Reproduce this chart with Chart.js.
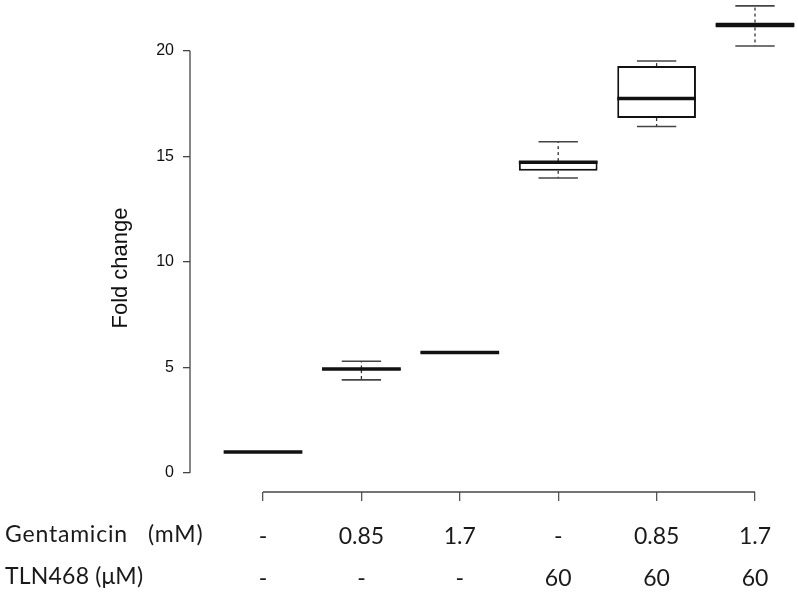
<!DOCTYPE html>
<html>
<head>
<meta charset="utf-8">
<script src="https://cdn.jsdelivr.net/npm/chart.js@4.4.1/dist/chart.umd.min.js"></script>
<style>
  html, body { margin: 0; padding: 0; background: #fff; }
  #wrap { width: 798px; height: 595px; position: relative; }
</style>
</head>
<body>
<div id="wrap"><canvas id="c" width="798" height="595"></canvas></div>
<script>
// ---- data ----
const positions   = [1, 2, 3, 4, 5, 6];
const gentamicin  = ['-', '0.85', '1.7', '-', '0.85', '1.7'];
const tln468      = ['-', '-', '-', '60', '60', '60'];
const whiskerLow  = [1.00, 4.41, 5.67, 13.97, 16.41, 20.22];
const q1          = [1.00, 4.88, 5.67, 14.31, 16.81, 21.10];
const median      = [1.00, 4.92, 5.71, 14.72, 17.74, 21.22];
const q3          = [1.00, 4.95, 5.75, 14.77, 19.27, 21.33];
const whiskerHigh = [1.00, 5.29, 5.75, 15.69, 19.51, 22.12];
const yTicks      = [0, 5, 10, 15, 20];
const rowTitles   = ['Gentamicin   (mM)', 'TLN468 (\u03bcM)'];
const yTitle      = 'Fold change';

const BOTTOM_FONT = "Lato, 'Open Sans', 'Liberation Sans', sans-serif";
const AXIS_FONT = "'Liberation Sans', Arial, sans-serif";

const boxPlugin = {
  id: 'boxWhiskers',
  afterDatasetsDraw(chart) {
    const { ctx, scales: { x, y } } = chart;
    const meta = chart.getDatasetMeta(0);
    ctx.save();
    positions.forEach((p, i) => {
      const bar = meta.data[i];
      const cx = x.getPixelForValue(p);
      const half = bar.width / 2;
      const capHalf = half / 2;
      const yl = y.getPixelForValue(whiskerLow[i]);
      const yh = y.getPixelForValue(whiskerHigh[i]);
      const y1 = y.getPixelForValue(q1[i]);
      const y3 = y.getPixelForValue(q3[i]);
      const ym = y.getPixelForValue(median[i]);
      ctx.strokeStyle = '#333';
      ctx.lineWidth = 1.3;
      ctx.setLineDash([3, 3]);
      if (whiskerHigh[i] > q3[i]) { ctx.beginPath(); ctx.moveTo(cx, y3); ctx.lineTo(cx, yh); ctx.stroke(); }
      if (whiskerLow[i] < q1[i]) { ctx.beginPath(); ctx.moveTo(cx, y1); ctx.lineTo(cx, yl); ctx.stroke(); }
      ctx.setLineDash([]);
      ctx.strokeStyle = '#444';
      ctx.lineWidth = 1.6;
      if (whiskerHigh[i] > q3[i]) { ctx.beginPath(); ctx.moveTo(cx - capHalf, yh); ctx.lineTo(cx + capHalf, yh); ctx.stroke(); }
      if (whiskerLow[i] < q1[i]) { ctx.beginPath(); ctx.moveTo(cx - capHalf, yl); ctx.lineTo(cx + capHalf, yl); ctx.stroke(); }
      ctx.strokeStyle = '#111';
      ctx.lineWidth = 3.5;
      ctx.beginPath(); ctx.moveTo(cx - half, ym); ctx.lineTo(cx + half, ym); ctx.stroke();
    });
    ctx.restore();
  },
  afterDraw(chart) {
    const { ctx, chartArea, scales: { x, y } } = chart;
    ctx.save();
    ctx.strokeStyle = '#444';
    ctx.lineWidth = 1.3;
    // R-style y axis line spanning 0..20
    ctx.beginPath();
    ctx.moveTo(chartArea.left, y.getPixelForValue(yTicks[0]));
    ctx.lineTo(chartArea.left, y.getPixelForValue(yTicks[yTicks.length - 1]));
    ctx.stroke();
    // R-style x axis line spanning first..last group
    ctx.beginPath();
    ctx.moveTo(x.getPixelForValue(positions[0]), chartArea.bottom);
    ctx.lineTo(x.getPixelForValue(positions[positions.length - 1]), chartArea.bottom);
    ctx.stroke();
    // y axis title
    ctx.save();
    ctx.translate(121, 268);
    ctx.rotate(-Math.PI / 2);
    ctx.fillStyle = '#111';
    ctx.font = '22px ' + AXIS_FONT;
    ctx.textAlign = 'center';
    ctx.textBaseline = 'middle';
    ctx.fillText(yTitle, 0, 0);
    ctx.restore();
    // row titles of the bottom table
    ctx.fillStyle = '#1a1a1a';
    ctx.font = '23px ' + BOTTOM_FONT;
    ctx.textAlign = 'left';
    ctx.textBaseline = 'middle';
    try { ctx.letterSpacing = '0.8px'; } catch (e) {}
    ctx.fillText(rowTitles[0], 5, 535);
    try { ctx.letterSpacing = '0.2px'; } catch (e) {}
    ctx.fillText(rowTitles[1], 5, 577);
    ctx.restore();
  }
};

new Chart(document.getElementById('c'), {
  type: 'bar',
  data: {
    datasets: [{
      data: positions.map((p, i) => ({ x: p, y: [q1[i], q3[i]] })),
      backgroundColor: '#ffffff',
      borderColor: '#111',
      borderWidth: 2,
      borderSkipped: false,
      categoryPercentage: 1.0,
      barPercentage: 0.8
    }]
  },
  options: {
    responsive: false,
    animation: false,
    layout: { padding: { left: 0, right: 0, top: 0, bottom: 0 } },
    plugins: { legend: { display: false }, tooltip: { enabled: false } },
    scales: {
      x: {
        type: 'linear',
        offset: false,
        min: 0.258,
        max: 6.437,
        afterBuildTicks(scale) { scale.ticks = positions.map(v => ({ value: v })); },
        afterFit(scale) { scale.height = 103; scale.paddingLeft = 0; scale.paddingRight = 0; },
        border: { display: false },
        grid: { offset: false, drawOnChartArea: false, drawTicks: true, tickLength: 9, color: '#555', lineWidth: 1.3 },
        ticks: {
          autoSkip: false,
          maxRotation: 0,
          padding: 15,
          color: '#1a1a1a',
          font: { family: BOTTOM_FONT, size: 23, lineHeight: 42 / 23 },
          callback(value) {
            const i = positions.indexOf(value);
            return i >= 0 ? [gentamicin[i], tln468[i]] : '';
          }
        }
      },
      y: {
        min: -0.9,
        max: 22.4,
        afterBuildTicks(scale) { scale.ticks = yTicks.map(v => ({ value: v })); },
        afterFit(scale) { scale.width = 190; scale.paddingTop = 0; scale.paddingBottom = 0; },
        border: { display: false },
        grid: { drawOnChartArea: false, drawTicks: true, tickLength: 7, color: '#444', lineWidth: 1.3 },
        ticks: {
          padding: 9,
          color: '#111',
          font: { family: AXIS_FONT, size: 16 }
        },
        title: { display: false }
      }
    }
  },
  plugins: [boxPlugin]
});
</script>
</body>
</html>
